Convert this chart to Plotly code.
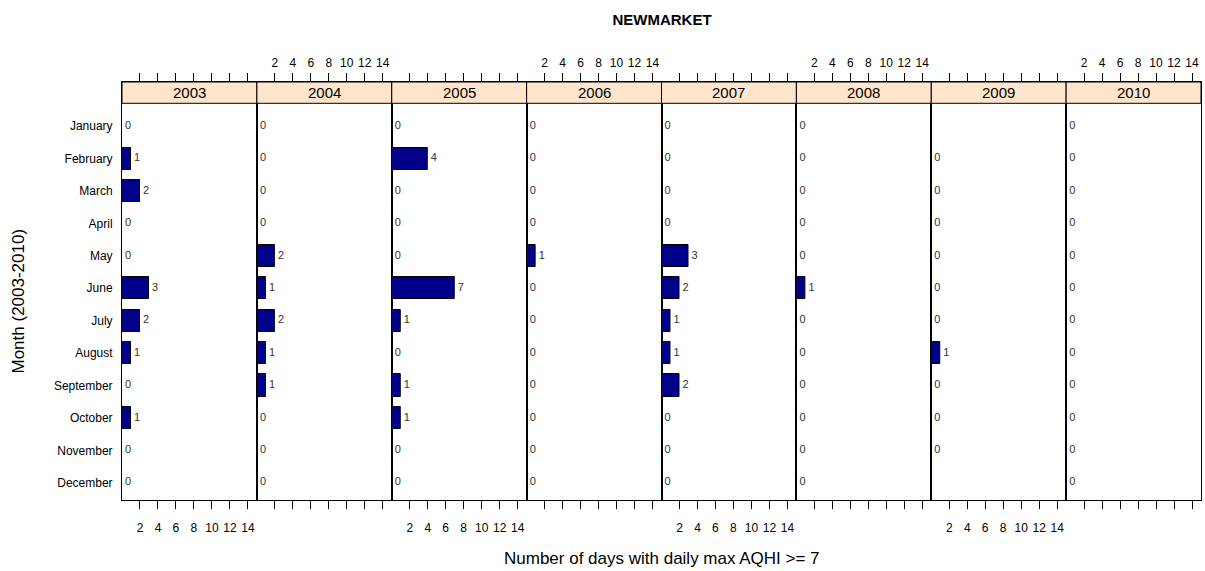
import plotly.graph_objects as go
from plotly.subplots import make_subplots

months = ["January", "February", "March", "April", "May", "June", "July",
          "August", "September", "October", "November", "December"]
years = ["2003", "2004", "2005", "2006", "2007", "2008", "2009", "2010"]
v2003 = [0, 1, 2, 0, 0, 3, 2, 1, 0, 1, 0, 0]
v2004 = [0, 0, 0, 0, 2, 1, 2, 1, 1, 0, 0, 0]
v2005 = [0, 4, 0, 0, 0, 7, 1, 0, 1, 1, 0, 0]
v2006 = [0, 0, 0, 0, 1, 0, 0, 0, 0, 0, 0, 0]
v2007 = [0, 0, 0, 0, 3, 2, 1, 1, 2, 0, 0, 0]
v2008 = [0, 0, 0, 0, 0, 1, 0, 0, 0, 0, 0, 0]
v2009 = [None, 0, 0, 0, 0, 0, 0, 1, 0, 0, 0, None]
v2010 = [0, 0, 0, 0, 0, 0, 0, 0, 0, 0, 0, 0]
values = [v2003, v2004, v2005, v2006, v2007, v2008, v2009, v2010]
x_ticks = [2, 4, 6, 8, 10, 12, 14]

FONT = "Liberation Sans, Arial, sans-serif"
W, H = 1205, 571
ML, MR, MT, MB = 122, 4, 82, 71
plot_h = H - MT - MB
strip_bottom_px = 103.3
strip_y0 = (H - MB - strip_bottom_px) / plot_h

fig = make_subplots(rows=1, cols=8, shared_yaxes=True, horizontal_spacing=0)
ypos = list(range(1, 13))

for i, (yr, vals) in enumerate(zip(years, values)):
    col = i + 1
    fig.add_trace(go.Bar(
        x=vals, y=ypos, orientation="h", width=0.69,
        marker=dict(color="#000088", line=dict(color="black", width=1)),
        showlegend=False, hoverinfo="skip",
    ), row=1, col=col)
    tx = [v for v in vals if v is not None]
    ty = [m for m, v in zip(ypos, vals) if v is not None]
    fig.add_trace(go.Scatter(
        x=tx, y=ty, mode="text", text=["&nbsp;" + str(v) for v in tx],
        textposition="middle right", cliponaxis=False,
        textfont=dict(family=FONT, size=11, color="#333333"),
        showlegend=False, hoverinfo="skip",
    ), row=1, col=col)
    top = (i % 2 == 1)
    fig.update_xaxes(
        range=[0, 15.0], tickvals=x_ticks, ticktext=[str(t) for t in x_ticks],
        side="top" if top else "bottom", ticklabelstandoff=1 if top else 9,
        ticks="outside", ticklen=8, tickcolor="black", tickwidth=1,
        mirror="allticks", showline=True, linecolor="black", linewidth=1,
        showgrid=False, zeroline=False,
        tickfont=dict(family=FONT, size=12, color="black"),
        row=1, col=col)
    # strip
    xd = "x domain" if col == 1 else f"x{col} domain"
    fig.add_shape(type="rect", xref=xd, yref="paper", x0=0, x1=1, y0=strip_y0, y1=1,
                  fillcolor="#FFE5CC", line=dict(color="black", width=1), layer="above")
    fig.add_annotation(xref=xd, yref="paper", x=0.5, y=(strip_y0 + 1) / 2,
                       xanchor="center", yanchor="middle",
                       text=yr, showarrow=False,
                       font=dict(family=FONT, size=15, color="black"))

fig.update_yaxes(
    range=[12.534, -0.367], tickvals=ypos, ticktext=months, ticks="",
    showline=True, mirror=True, linecolor="black", linewidth=1,
    showgrid=False, zeroline=False, ticklabelstandoff=6,
    tickfont=dict(family=FONT, size=12, color="black"))
fig.update_yaxes(showticklabels=False)
fig.update_yaxes(showticklabels=True, row=1, col=1)

fig.update_layout(
    width=W, height=H, margin=dict(l=ML, r=MR, t=MT, b=MB),
    plot_bgcolor="white", paper_bgcolor="white", bargap=0,
    title=dict(text="<b>NEWMARKET</b>", x=(662 / W), xanchor="center", y=1 - 20 / H,
               yanchor="middle", font=dict(family=FONT, size=15, color="black")),
)
fig.add_annotation(xref="paper", yref="paper", x=0.5, y=-(558 - (H - MB)) / plot_h,
                   text="Number of days with daily max AQHI >= 7", showarrow=False,
                   xanchor="center", yanchor="middle",
                   font=dict(family=FONT, size=17, color="black"))
fig.add_annotation(xref="paper", yref="paper", x=-(122 - 18) / (W - ML - MR),
                   y=(H - MB - 301.5) / plot_h, textangle=-90,
                   text="Month (2003-2010)", showarrow=False,
                   xanchor="center", yanchor="middle",
                   font=dict(family=FONT, size=17, color="black"))

fig.write_html("out.html", config={"displayModeBar": False},
               post_script="document.body.style.margin='0px';")
